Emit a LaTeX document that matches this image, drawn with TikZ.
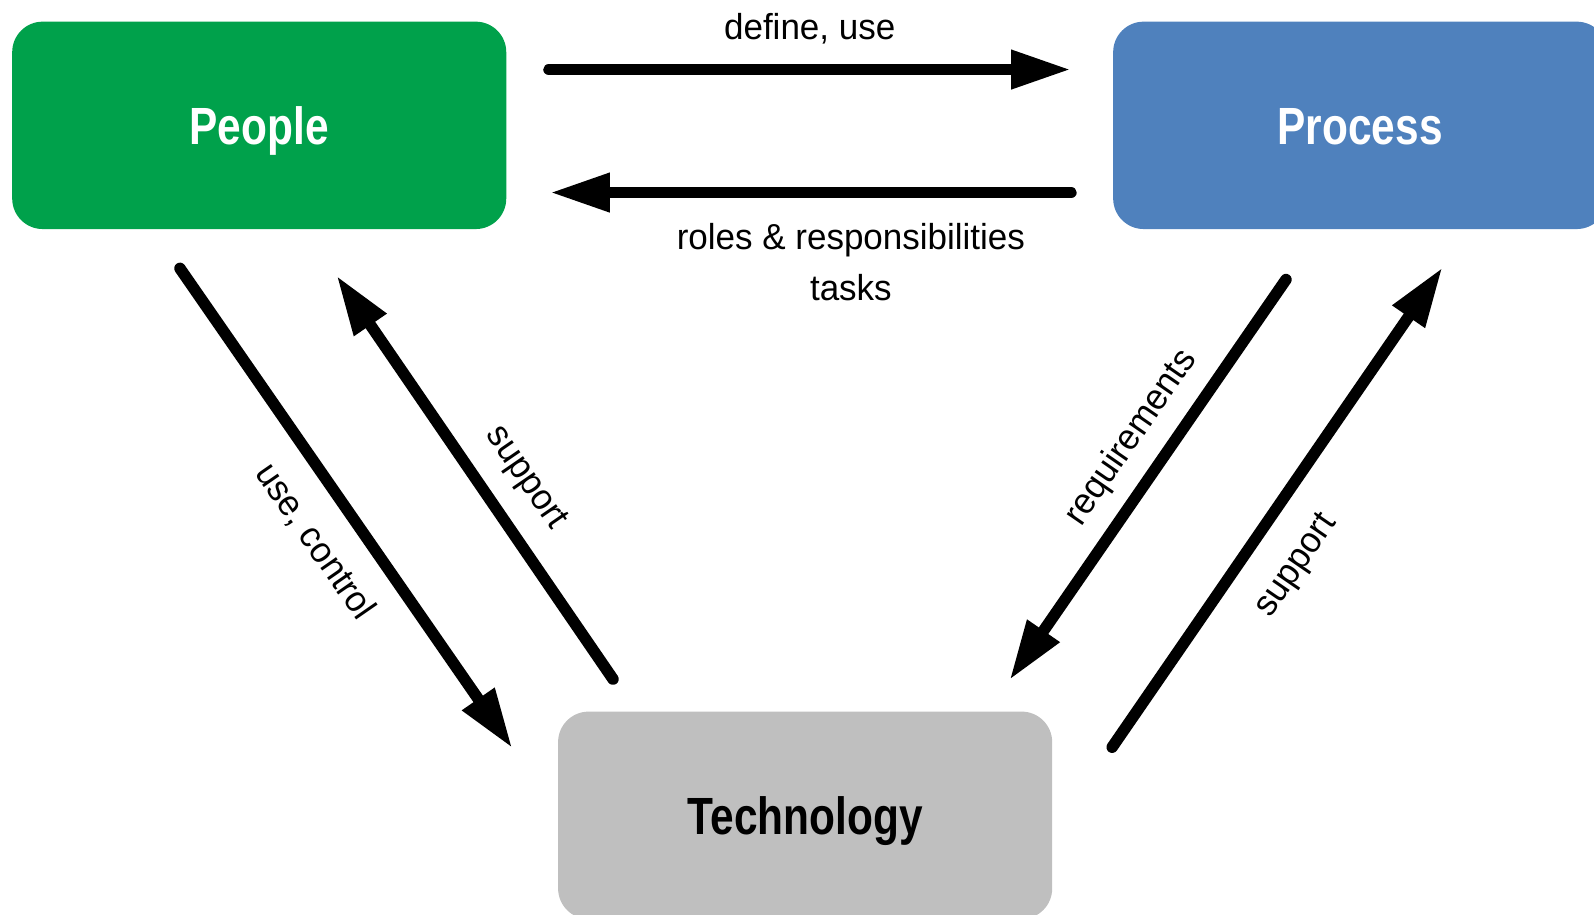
\documentclass[tikz,border=0pt]{standalone}
\usepackage{fontspec}
\setmainfont{Liberation Sans}
\newfontfamily\boxfont{Liberation Sans}[FakeStretch=0.81]
\newfontfamily\lblfont{Liberation Sans}[FakeStretch=0.97]
\usetikzlibrary{arrows.meta}
\definecolor{pgreen}{RGB}{0,161,75}
\definecolor{pblue}{RGB}{79,129,189}
\definecolor{tgray}{RGB}{191,191,191}
\begin{document}
\begin{tikzpicture}[x=1pt,y=-1pt,
  box/.style={rounded corners=30pt, minimum width=486pt, minimum height=204pt,
    inner sep=0pt, text height=36.9pt, text depth=0pt,
    font=\boxfont\bfseries\fontsize{51.5}{60}\selectfont},
  arr/.style={line width=11.3pt, line cap=round, -{Triangle[length=59pt,width=36pt]}},
  lbl/.style={inner sep=0pt, font=\lblfont\fontsize{35.5}{42}\selectfont}]
\useasboundingbox (0,0) rectangle (1568,900);
\clip (0,0) rectangle (1568,900);
% boxes
\node[box, fill=pgreen, text=white] (people) at (255,123.3) {People};
\node[box, fill=pblue, text=white] (process) at (1338,123.3) {Process};
\node[box, fill=tgray, text=black] (tech) at (792,802) {Technology};
% arrow end points
\coordinate (a1s) at (540,68.4);
\coordinate (a1e) at (1053.5,68.4);
\coordinate (a2s) at (1053.5,189.4);
\coordinate (a2e) at (541,189.4);
\coordinate (a3s) at (177,264);
\coordinate (a3e) at (504,736);
\coordinate (a4s) at (603,668);
\coordinate (a4e) at (331,271);
\coordinate (a5s) at (1265,275);
\coordinate (a5e) at (993,669);
\coordinate (a6s) at (1094,735);
\coordinate (a6e) at (1419,263);
% arrows
\draw[arr] (a1s) -- (a1e);
\draw[arr] (a2s) -- (a2e);
\draw[arr] (a3s) -- (a3e);
\draw[arr] (a4s) -- (a4e);
\draw[arr] (a5s) -- (a5e);
\draw[arr] (a6s) -- (a6e);
% labels
\node[lbl, anchor=base] (l1) at (796.5,39.3) {define, use};
\node[lbl, anchor=base] (l2) at (837,245.5) {roles \& responsibilities};
\node[lbl, anchor=base] (l3) at (837,296) {tasks};
\node[lbl, rotate=-55.3] (l4) at (310,533) {use, control};
\node[lbl, rotate=-55.5] (l5) at (517,470.5) {support};
\node[lbl, rotate=55.4] (l6) at (1113,431) {requirements};
\node[lbl, rotate=55.5] (l7) at (1276,557) {support};
\end{tikzpicture}
\end{document}
